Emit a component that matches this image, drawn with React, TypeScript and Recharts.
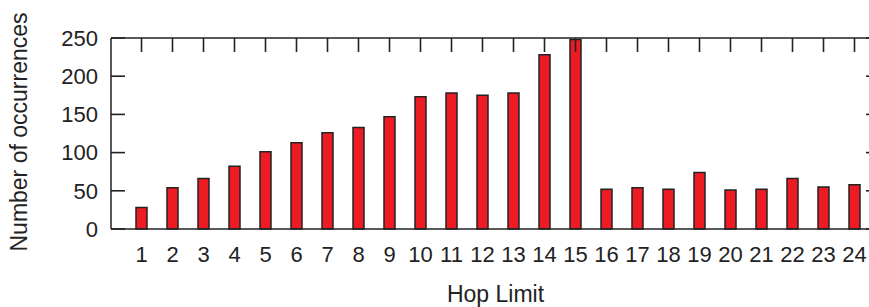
import { BarChart, Bar, XAxis, YAxis } from "recharts";

const hopLimits = [
  "1", "2", "3", "4", "5", "6", "7", "8", "9", "10", "11", "12",
  "13", "14", "15", "16", "17", "18", "19", "20", "21", "22", "23", "24",
];
const occurrences = [
  28, 54, 66, 82, 101, 113, 126, 133, 147, 173, 178, 175,
  178, 228, 248, 52, 54, 52, 74, 51, 52, 66, 55, 58,
];
const yTicks = [0, 50, 100, 150, 200, 250];

const data = hopLimits.map((h, i) => ({ hop: h, count: occurrences[i] }));

const FONT = "'Liberation Sans', Arial, sans-serif";
const INK = "#222222";
const LEFT_W = 111; // width of the left axis = x of the left border
const TICK_LEN = 14;
const tickFont = { fontSize: 22, fill: INK, fontFamily: FONT };

// inward ticks on the top border
const TopTick = (props: any) => {
  const { x, y } = props;
  return <line x1={x} y1={y} x2={x} y2={y + TICK_LEN} stroke={INK} strokeWidth={1.6} />;
};

// inward ticks on both the right and the left border, at the same y values
const SideTicks = (props: any) => {
  const { x, y } = props;
  return (
    <g>
      <line x1={x} y1={y} x2={x - TICK_LEN} y2={y} stroke={INK} strokeWidth={1.6} />
      <line x1={LEFT_W} y1={y} x2={LEFT_W + TICK_LEN} y2={y} stroke={INK} strokeWidth={1.6} />
    </g>
  );
};

const titleStyle: React.CSSProperties = {
  position: "absolute",
  whiteSpace: "nowrap",
  fontFamily: FONT,
  fontSize: 23,
  lineHeight: 1,
  color: INK,
};

export default function App() {
  return (
    <div
      style={{
        position: "absolute",
        top: 0,
        left: 0,
        width: 869,
        height: 307,
        overflow: "hidden",
        background: "#fff",
      }}
    >
      <BarChart
        width={890}
        height={307}
        data={data}
        margin={{ top: 37, right: 0, bottom: 0, left: 0 }}
        barCategoryGap={0}
      >
        <XAxis
          xAxisId="bottom"
          dataKey="hop"
          height={78}
          padding={{ left: 15, right: 10 }}
          tickSize={0}
          tickMargin={17}
          interval={0}
          tick={tickFont}
          tickLine={false}
          axisLine={{ stroke: INK, strokeWidth: 1.5 }}
        />
        <XAxis
          xAxisId="top"
          orientation="top"
          dataKey="hop"
          height={1}
          padding={{ left: 15, right: 10 }}
          tickSize={0}
          tickMargin={0}
          interval={0}
          tick={<TopTick />}
          tickLine={false}
          axisLine={{ stroke: INK, strokeWidth: 1.5 }}
        />
        <YAxis
          yAxisId="left"
          width={LEFT_W}
          domain={[0, 250]}
          ticks={yTicks}
          tickSize={0}
          tickMargin={13}
          tick={tickFont}
          tickLine={false}
          axisLine={{ stroke: INK, strokeWidth: 1.5 }}
        />
        <YAxis
          yAxisId="right"
          orientation="right"
          width={10}
          domain={[0, 250]}
          ticks={yTicks}
          tickSize={0}
          tickMargin={0}
          tick={<SideTicks />}
          tickLine={false}
          axisLine={{ stroke: INK, strokeWidth: 1.5 }}
        />
        <Bar
          xAxisId="top"
          yAxisId="right"
          dataKey="count"
          fill="none"
          stroke="none"
          isAnimationActive={false}
        />
        <Bar
          xAxisId="bottom"
          yAxisId="left"
          dataKey="count"
          barSize={11}
          fill="#ed1c24"
          stroke={INK}
          strokeWidth={1.5}
          isAnimationActive={false}
        />
      </BarChart>
      <div
        style={{
          ...titleStyle,
          left: 19,
          top: 132,
          transform: "translate(-50%, -50%) rotate(-90deg)",
        }}
      >
        Number of occurrences
      </div>
      <div
        style={{
          ...titleStyle,
          left: 495.5,
          top: 283,
          transform: "translateX(-50%)",
        }}
      >
        Hop Limit
      </div>
    </div>
  );
}
